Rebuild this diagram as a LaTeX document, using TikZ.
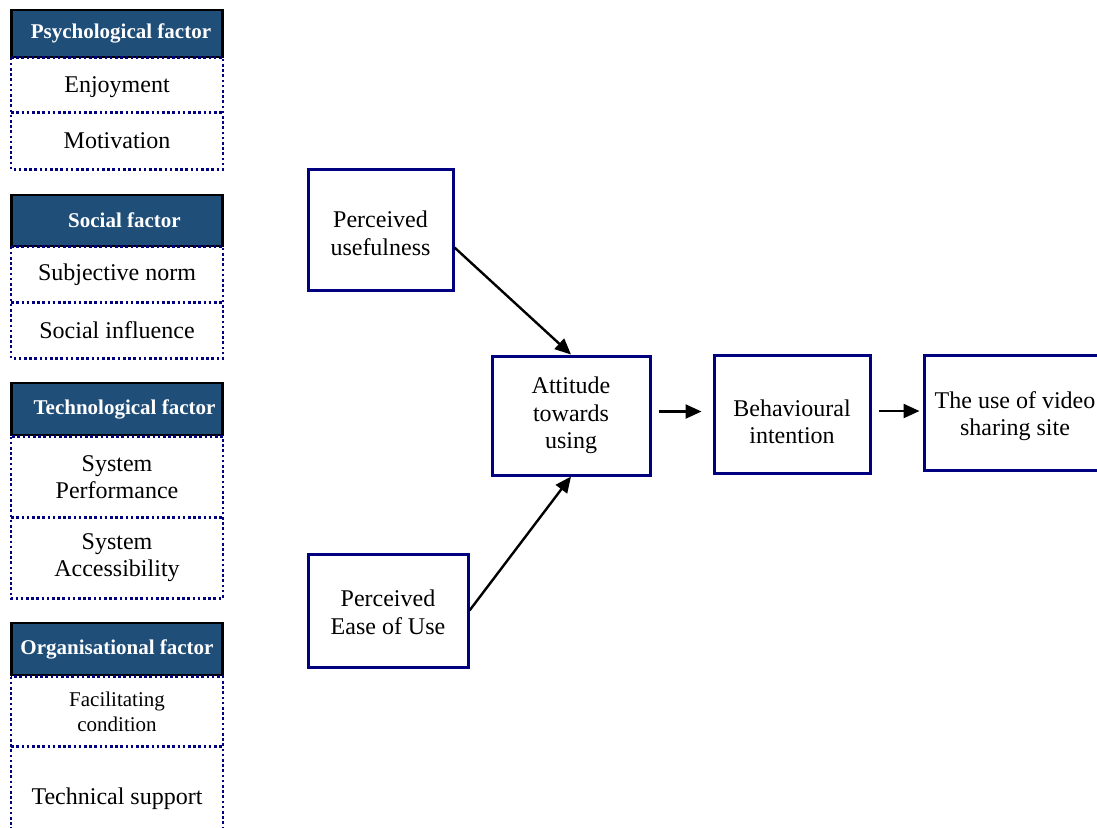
\documentclass[tikz,border=0pt]{standalone}
\usepackage{fontspec}
\setmainfont{Liberation Serif}
\usetikzlibrary{arrows.meta}

\definecolor{navyline}{RGB}{0,0,128}
\definecolor{headfill}{RGB}{31,78,121}

\begin{document}
\begin{tikzpicture}[x=0.5pt,y=-0.5pt,
    factor/.style={draw=black, line width=1.1pt, fill=headfill, text=white,
        font=\fontsize{10.5}{12}\selectfont\bfseries, minimum width=105.5pt, inner sep=0pt},
    item/.style={font=\fontsize{12}{13.8}\selectfont, align=center, minimum width=105.5pt, inner sep=0pt},
    dots/.style={draw=navyline, line width=1.3pt, dash pattern=on 1.3pt off 1.3pt},
    block/.style={draw=navyline, line width=1.5pt, font=\fontsize{12}{13.8}\selectfont,
        align=center, inner sep=0pt},
    link/.style={line width=1.2pt, -{Triangle[length=8pt,width=7pt]}}]
    \clip (0,0) rectangle (1097,827);  % page size in pixels

    % factor groups on the left
    \node[factor, minimum height=23.5pt] (psy) at (117,33.5) {\hspace*{4pt}Psychological factor};
    \node[item, minimum height=27pt] (enj) at (117,85) {\rule{0pt}{10pt}Enjoyment};
    \node[item, minimum height=28.5pt] (mot) at (117,140.5) {Motivation};
    \draw[dots] (enj.north west) rectangle (mot.south east);
    \draw[dots] (enj.south west) -- (enj.south east);

    \node[factor, minimum height=25.5pt] (soc) at (117,220.5) {\hspace*{7.5pt}Social factor};
    \node[item, minimum height=27.5pt] (norm) at (117,274.5) {\rule{0pt}{9pt}Subjective norm};
    \node[item, minimum height=28pt] (infl) at (117,330) {Social influence};
    \draw[dots] (norm.north west) rectangle (infl.south east);
    \draw[dots] (norm.south west) -- (norm.south east);

    \node[factor, minimum height=26pt] (tech) at (117,409) {\hspace*{7.5pt}Technological factor};
    \node[item, minimum height=40pt] (perf) at (117,477) {System\\Performance};
    \node[item, minimum height=40.5pt] (acc) at (117,557.5) {System\\Accessibility};
    \draw[dots] (perf.north west) rectangle (acc.south east);
    \draw[dots] (perf.south west) -- (perf.south east);

    \node[factor, minimum height=26pt] (org) at (117,649) {Organisational factor};
    \node[item, minimum height=34.5pt, font=\fontsize{10.5}{12.5}\selectfont] (fac) at (117,711.5)
        {Facilitating\\condition};
    \node[item, minimum height=53pt] (supp) at (117,799) {Technical support};
    \draw[dots] (fac.north west) rectangle (supp.south east);
    \draw[dots] (fac.south west) -- (fac.south east);

    % model
    \node[block, minimum width=72.5pt, minimum height=60.5pt] (pu) at (380.5,229.5)
        {\rule{0pt}{12pt}Perceived\\usefulness};
    \node[block, minimum width=80pt, minimum height=56.5pt] (peou) at (388,610.5)
        {\rule{0pt}{10pt}Perceived\\Ease of Use};
    \node[block, minimum width=79pt, minimum height=59.5pt] (atu) at (571,415.5)
        {Attitude\\towards\\using};
    \node[block, minimum width=78pt, minimum height=59pt] (bi) at (792,414)
        {\rule{0pt}{16pt}Behavioural\\intention};
    \node[block, minimum width=91pt, minimum height=57.5pt] (use) at (1015,412.5)
        {\rule{0pt}{12pt}The use of video\\sharing site};

    \draw[link] ([yshift=-9pt]pu.east) -- (atu.north);
    \draw[link] (peou.east) -- (atu.south);
    \draw[link, shorten <=3.5pt, shorten >=5.5pt] ([yshift=2pt]atu.east) -- ([yshift=2pt]atu.east -| bi.west);
    \draw[link, shorten <=3.5pt, shorten >=1.5pt] ([yshift=1.5pt]bi.east) -- ([yshift=1.5pt]bi.east -| use.west);
\end{tikzpicture}
\end{document}
